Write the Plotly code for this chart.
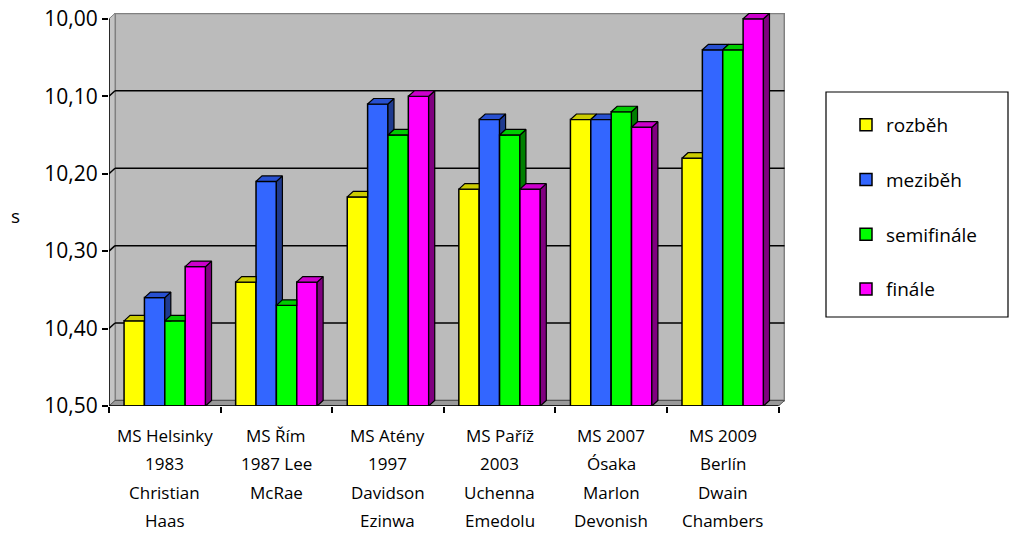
import plotly.graph_objects as go

# Category labels (one line per list item)
categories = [
    ["MS Helsinky", "1983", "Christian", "Haas"],
    ["MS Řím", "1987 Lee", "McRae"],
    ["MS Atény", "1997", "Davidson", "Ezinwa"],
    ["MS Paříž", "2003", "Uchenna", "Emedolu"],
    ["MS 2007", "Ósaka", "Marlon", "Devonish"],
    ["MS 2009", "Berlín", "Dwain", "Chambers"],
]

series_names = ["rozběh", "meziběh", "semifinále", "finále"]

rozbeh = [10.39, 10.34, 10.23, 10.22, 10.13, 10.18]
mezibeh = [10.36, 10.21, 10.11, 10.13, 10.13, 10.04]
semifinale = [10.39, 10.37, 10.15, 10.15, 10.12, 10.04]
finale = [10.32, 10.34, 10.10, 10.22, 10.14, 10.00]

y_ticks = [10.00, 10.10, 10.20, 10.30, 10.40, 10.50]

# Styling
front_colors = ["#FFFF00", "#3366FF", "#00FF00", "#FF00FF"]
top_colors = ["#CCCC00", "#2850D0", "#00CC00", "#CC00CC"]
side_colors = ["#999900", "#1F3A8F", "#008000", "#800080"]

BASE = 10.50
TOP = 10.00
DX = 0.054      # depth offset along x (axis units)
DY = 0.0071     # depth offset along y (axis units)
BARGAP = 0.27
W = (1 - BARGAP) / 4
FONT = "Open Sans"

all_series = [rozbeh, mezibeh, semifinale, finale]
n_cat = len(categories)
idx = list(range(n_cat))

fig = go.Figure()

# Front faces of the columns
for k, (name, vals) in enumerate(zip(series_names, all_series)):
    off = -(1 - BARGAP) / 2 + k * W
    fig.add_trace(go.Bar(
        x=idx, y=[BASE - v for v in vals], base=vals,
        offset=off, width=W, name=name,
        marker=dict(color=front_colors[k], line=dict(color="black", width=1.5)),
        legendgroup=name, hoverinfo="skip",
    ))

# Side and top faces (3D depth), hidden where the neighbouring column covers them
for k, vals in enumerate(all_series):
    off = -(1 - BARGAP) / 2 + k * W
    nxt = all_series[k + 1] if k < 3 else None
    sx, sy, tx, ty = [], [], [], []
    for i, v in enumerate(vals):
        x0 = i + off
        x1 = x0 + W
        if nxt is None:
            sx += [x1, x1 + DX, x1 + DX, x1, x1, None]
            sy += [v, v - DY, BASE - DY, BASE, v, None]
        elif v < nxt[i]:
            sx += [x1, x1 + DX, x1 + DX, x1, x1, None]
            sy += [v, v - DY, nxt[i], nxt[i], v, None]
        if nxt is not None and nxt[i] < v:
            tx += [x0, x1, x1, x0 + DX, x0, None]
            ty += [v, v, v - DY, v - DY, v, None]
        else:
            tx += [x0, x1, x1 + DX, x0 + DX, x0, None]
            ty += [v, v, v - DY, v - DY, v, None]
    if sx:
        fig.add_trace(go.Scatter(
            x=sx, y=sy, mode="lines", fill="toself", fillcolor=side_colors[k],
            line=dict(color="black", width=1.2), showlegend=False, hoverinfo="skip",
        ))
    fig.add_trace(go.Scatter(
        x=tx, y=ty, mode="lines", fill="toself", fillcolor=top_colors[k],
        line=dict(color="black", width=1.2), showlegend=False, hoverinfo="skip",
    ))

shapes = []
x_left, x_right = -0.5, n_cat - 0.5
# back wall
shapes.append(dict(type="rect", xref="x", yref="y", layer="below",
                   x0=x_left + DX, x1=x_right + DX, y0=TOP - DY, y1=BASE - DY,
                   fillcolor="#BBBBBB", line=dict(color="#808080", width=2)))
# side wall
shapes.append(dict(type="path", xref="x", yref="y", layer="below",
                   path=f"M{x_left},{BASE} L{x_left},{TOP} L{x_left + DX},{TOP - DY} "
                        f"L{x_left + DX},{BASE - DY} Z",
                   fillcolor="#C4C4C4", line=dict(color="#808080", width=1)))
# gridlines on the back wall, with the short diagonal on the side wall
for t in y_ticks[1:-1]:
    shapes.append(dict(type="line", xref="x", yref="y", layer="below",
                       x0=x_left + DX, x1=x_right + DX, y0=t - DY, y1=t - DY,
                       line=dict(color="black", width=1.5)))
    shapes.append(dict(type="line", xref="x", yref="y", layer="below",
                       x0=x_left, x1=x_left + DX, y0=t, y1=t - DY,
                       line=dict(color="black", width=1.5)))
# floor
shapes.append(dict(type="path", xref="x", yref="y", layer="below",
                   path=f"M{x_left},{BASE} L{x_right},{BASE} L{x_right + DX},{BASE - DY} "
                        f"L{x_left + DX},{BASE - DY} Z",
                   fillcolor="#999999", line=dict(color="#555555", width=1)))
# axis lines
shapes.append(dict(type="line", xref="x", yref="y", layer="above",
                   x0=x_left, x1=x_right, y0=BASE, y1=BASE,
                   line=dict(color="black", width=1.5)))
shapes.append(dict(type="line", xref="x", yref="y", layer="above",
                   x0=x_left, x1=x_left, y0=BASE, y1=TOP,
                   line=dict(color="black", width=1.5)))

# legend frame
PLOT_L, PLOT_T, PLOT_W, PLOT_H = 109, 13, 676, 393


def px_x(p):
    return (p - PLOT_L) / PLOT_W


def px_y(p):
    return (PLOT_T + PLOT_H - p) / PLOT_H


shapes.append(dict(type="rect", xref="paper", yref="paper",
                   x0=px_x(826), x1=px_x(1008), y0=px_y(317), y1=px_y(92),
                   line=dict(color="black", width=1.2), fillcolor="rgba(0,0,0,0)"))

annotations = []
# category labels, one annotation per line
for i, lines in enumerate(categories):
    for j, line in enumerate(lines):
        annotations.append(dict(
            x=i, xref="x", y=px_y(435 + 28.6 * j), yref="paper",
            text=line, showarrow=False, xanchor="center", yanchor="middle",
            font=dict(family=FONT, size=17, color="black"),
        ))
# axis title
annotations.append(dict(x=px_x(15), y=px_y(216), xref="paper", yref="paper",
                        text="s", showarrow=False, xanchor="center", yanchor="middle",
                        font=dict(family=FONT, size=19, color="black")))

fig.update_layout(
    width=1009, height=533,
    margin=dict(l=PLOT_L, r=1009 - PLOT_L - PLOT_W, t=PLOT_T, b=533 - PLOT_T - PLOT_H),
    paper_bgcolor="white", plot_bgcolor="white",
    barmode="overlay",
    shapes=shapes, annotations=annotations,
    showlegend=True,
    legend=dict(
        x=px_x(846), y=px_y(106), xanchor="left", yanchor="top",
        bgcolor="rgba(0,0,0,0)", borderwidth=0,
        font=dict(family=FONT, size=19, color="black"),
        traceorder="grouped", tracegroupgap=27,
    ),
    xaxis=dict(
        range=[x_left, x_right + DX + 0.004], showgrid=False, zeroline=False,
        showline=False, tickvals=[x_left + i for i in range(n_cat + 1)],
        ticks="outside", ticklen=6, tickwidth=1.5, tickcolor="black",
        showticklabels=False, fixedrange=True, automargin=False,
    ),
    yaxis=dict(
        range=[BASE, TOP - DY - 0.0004], showgrid=False, zeroline=False,
        showline=False, tickvals=y_ticks,
        ticktext=[f"{t:.2f}".replace(".", ",") for t in y_ticks],
        ticks="outside", ticklen=6, tickwidth=1.5, tickcolor="black",
        tickfont=dict(family=FONT, size=21, color="black"), fixedrange=True,
        automargin=False,
    ),
)

fig.write_html("out.html")
